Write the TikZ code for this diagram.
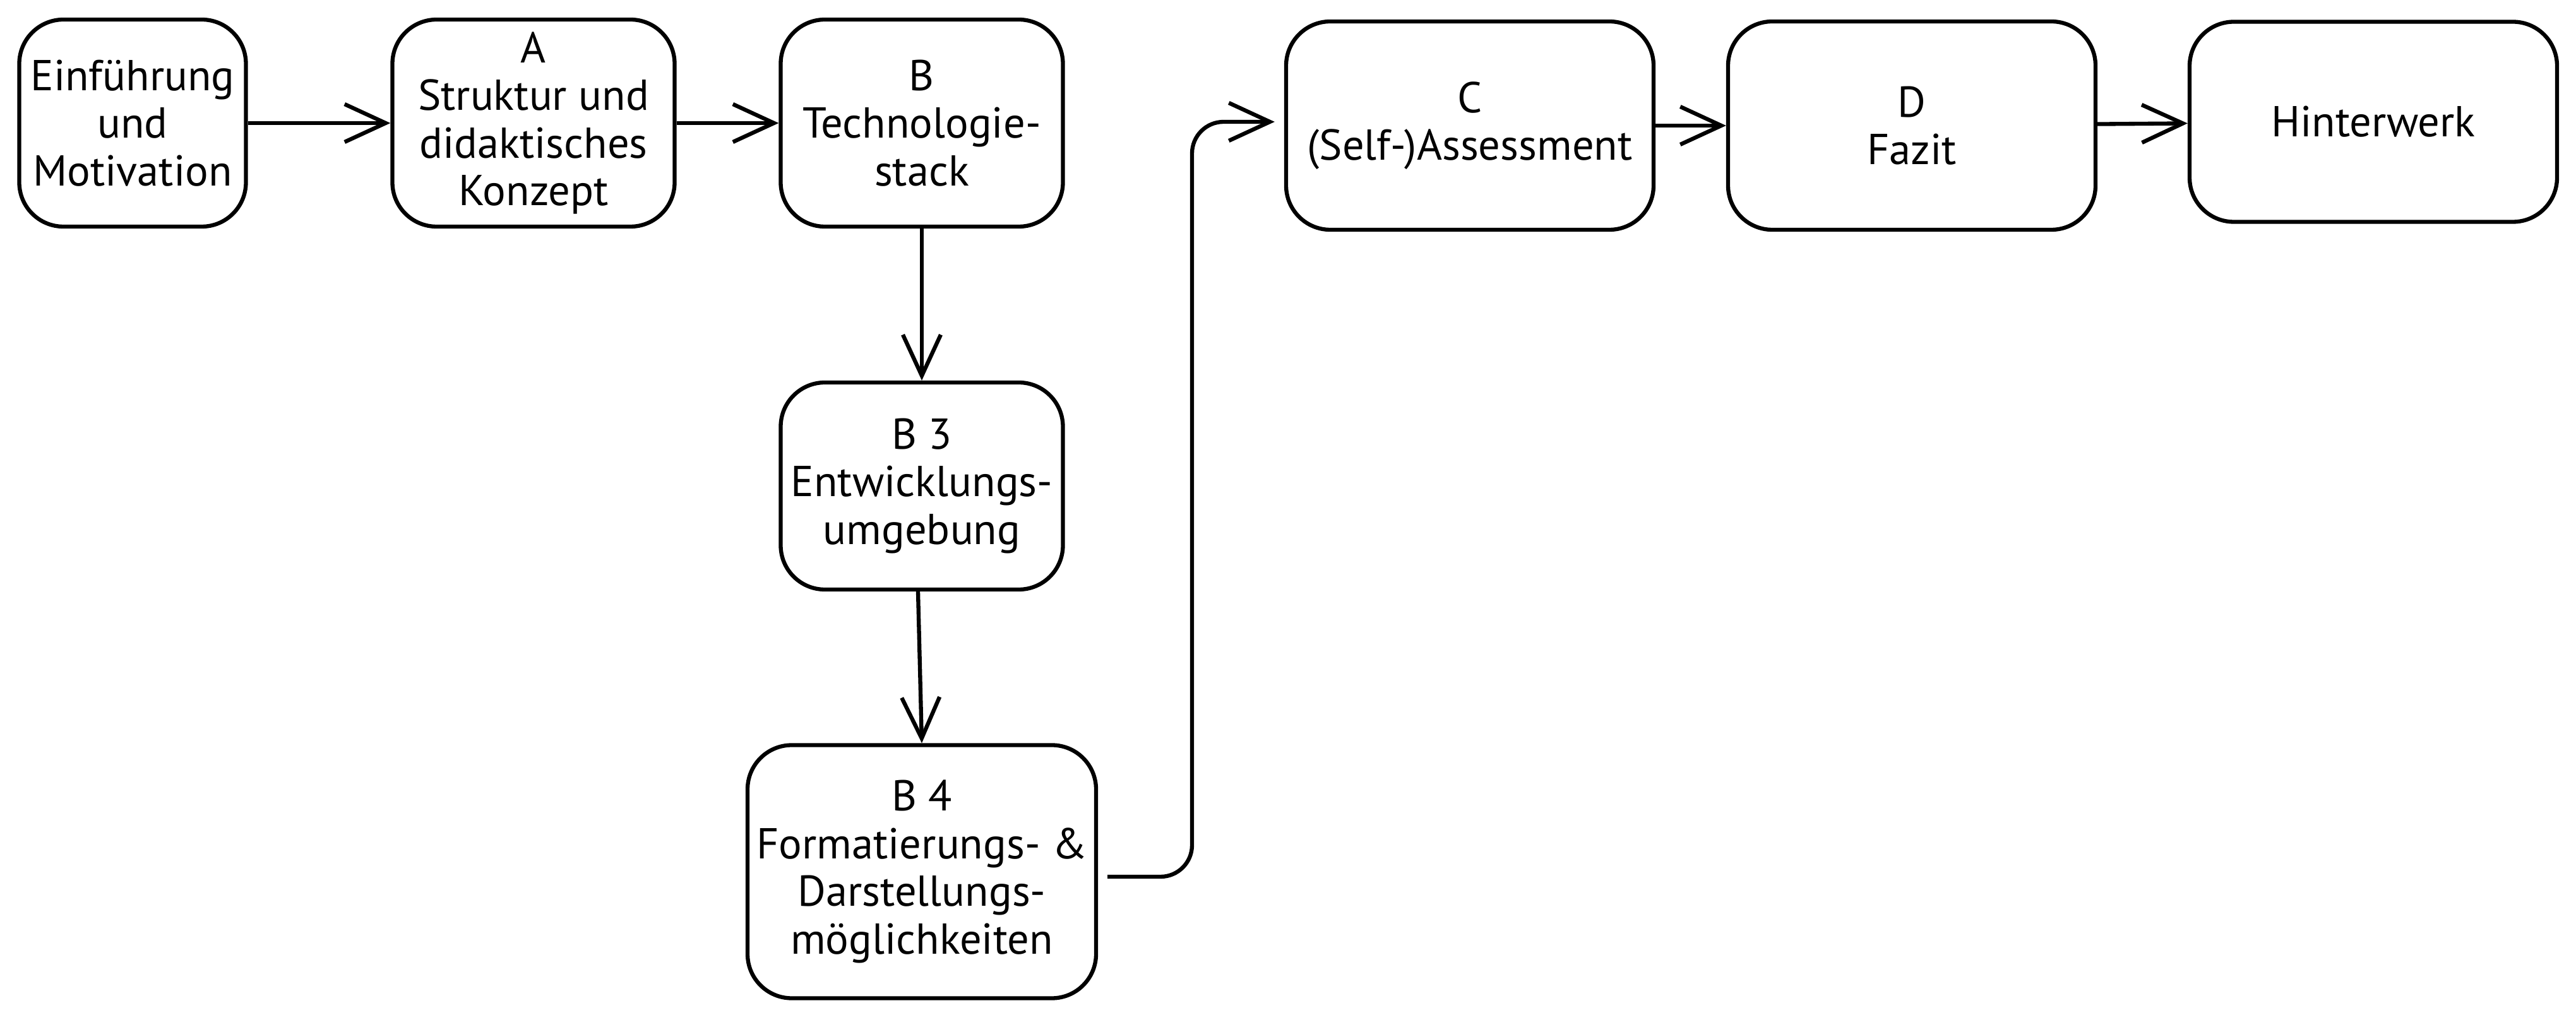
\documentclass[tikz,border=0pt]{standalone}
\usepackage{fontspec}
\setmainfont{PT Sans}
\usetikzlibrary{arrows.meta,positioning}

\begin{document}
\begin{tikzpicture}[>={Straight Barb[length=6.5mm,width=6mm]},
  chapbox/.style={draw,line width=1.8pt,rounded corners=7mm,align=center,font=\fontsize{19.5}{21.5}\selectfont,minimum width=4.47cm,minimum height=3.28cm,inner sep=2pt},
  widebox/.style={chapbox,minimum width=5.82cm,minimum height=3.3cm},
  flow/.style={line width=1.8pt,->}]
\useasboundingbox (0,0) rectangle (40.8,16.16);
% upper row
\node[chapbox,minimum width=3.59cm] (intro) at (2.10,14.21) {Einführung\\und\\Motivation};
\node[chapbox] (konzept) at (8.45,14.21) {A\\Struktur und\\didaktisches\\Konzept};
\node[chapbox] (stack) at (14.60,14.21) {B\\Technologie-\\stack};
% B column
\node[chapbox] (devenv) at (14.60,8.46) {B 3\\Entwicklungs-\\umgebung};
\node[chapbox,minimum width=5.52cm,minimum height=4.01cm] (format) at (14.60,2.35) {B 4\\Formatierungs- \&\\Darstellungs-\\möglichkeiten};
% right part of the row
\node[widebox] (assess) at (23.28,14.17) {C\\(Self-)Assessment};
\node[widebox] (fazit) at (30.28,14.17) {D\\Fazit};
\node[widebox,minimum height=3.17cm] (anhang) at (37.59,14.23) {Hinterwerk};
\coordinate (bend) at (18.88,0);
\draw[flow] (intro) -- (konzept);
\draw[flow] (konzept) -- (stack);
\draw[flow] (stack) -- (devenv);
\draw[flow] ([xshift=-0.6mm]devenv.south) -- (format.north);
\draw[flow,rounded corners=5mm] ([xshift=1.5mm,yshift=-0.8mm]format.east) -- ([yshift=-0.8mm]bend |- format.east) -- ([yshift=0.6mm]bend |- assess.west) -- ([xshift=-1.5mm,yshift=0.6mm]assess.west);
\draw[flow] (assess) -- (fazit);
\draw[flow] (fazit) -- (anhang);
\end{tikzpicture}
\end{document}
